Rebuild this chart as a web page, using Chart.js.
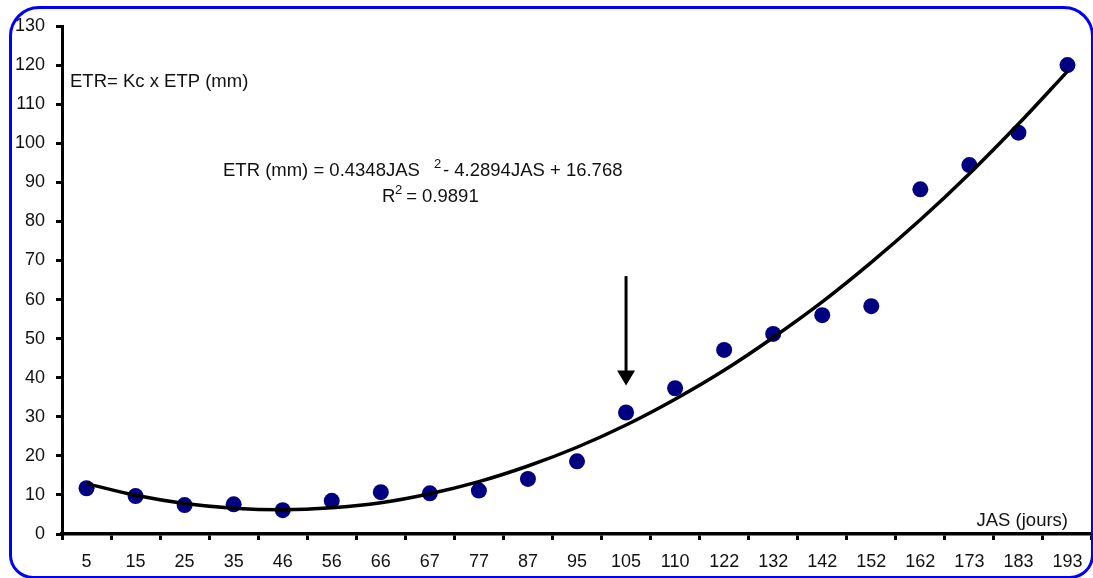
<!DOCTYPE html>
<html>
<head>
<meta charset="utf-8">
<script src="https://cdn.jsdelivr.net/npm/chart.js@4/dist/chart.umd.min.js"></script>
<style>
  html, body { margin: 0; padding: 0; background: #fff; overflow: hidden; }
  #wrap { position: relative; width: 1093px; height: 578px; overflow: hidden; }
  #frame {
    position: absolute; left: 9px; top: 6px; width: 1079px; height: 567px;
    border: 3px solid #0000ff; border-radius: 30px 30px 24px 24px; pointer-events: none;
  }
  canvas { position: absolute; left: 0; top: 0; }
</style>
</head>
<body>
<div id="wrap">
  <canvas id="etr" width="1100" height="578"></canvas>
  <div id="frame"></div>
</div>
<script>
// jours apres semis
const jas = ['5','15','25','35','46','56','66','67','77','87','95','105','110','122','132','142','152','162','173','183','193'];
// ETR mesuree (mm)
const etr = [11.7, 9.7, 7.4, 7.6, 6.1, 8.5, 10.7, 10.4, 11.1, 14.1, 18.6, 31.1, 37.3, 47.1, 51.2, 56.0, 58.3, 88.2, 94.4, 102.7, 120.0];
// courbe de tendance polynomiale (ordre 2)
const tendance = [12.9, 9.9, 7.8, 6.6, 6.2, 6.7, 8.0, 10.3, 13.4, 17.4, 22.2, 27.9, 34.5, 41.9, 50.3, 59.4, 69.5, 80.4, 92.2, 104.9, 118.4];
const yTicks = [0, 130, 10];

const family = 'Arial, "Liberation Sans", sans-serif';
const font = { family: family, size: 18 };

const annotations = {
  id: 'annotations',
  afterDatasetsDraw(chart) {
    const ctx = chart.ctx;
    const x = chart.scales.x, y = chart.scales.y;
    const big = '18.5px ' + family, small = '13px ' + family;
    ctx.save();
    ctx.fillStyle = '#111';
    ctx.font = big;
    ctx.textBaseline = 'middle';
    ctx.textAlign = 'left';
    ctx.fillText('ETR= Kc x ETP (mm)', 70, 82);

    // equation de la tendance
    ctx.fillText('ETR (mm) = 0.4348JAS', 223, 171);
    ctx.font = small;
    ctx.fillText('2', 434, 164);
    ctx.font = big;
    ctx.fillText('- 4.2894JAS + 16.768', 443, 171);
    ctx.fillText('R', 382, 197);
    ctx.font = small;
    ctx.fillText('2', 395, 190);
    ctx.font = big;
    ctx.fillText(' = 0.9891', 401, 197);

    ctx.textAlign = 'right';
    ctx.fillText('JAS (jours)', 1068, 521);

    // fleche sur JAS 105
    const ax = x.getPixelForValue(11);
    const top = y.getPixelForValue(66);
    const tip = y.getPixelForValue(38);
    ctx.strokeStyle = '#000';
    ctx.lineWidth = 3;
    ctx.beginPath();
    ctx.moveTo(ax, top);
    ctx.lineTo(ax, tip - 12);
    ctx.stroke();
    ctx.fillStyle = '#000';
    ctx.beginPath();
    ctx.moveTo(ax - 9, tip - 15);
    ctx.lineTo(ax + 9, tip - 15);
    ctx.lineTo(ax, tip);
    ctx.closePath();
    ctx.fill();
    ctx.restore();
  }
};

new Chart(document.getElementById('etr'), {
  type: 'line',
  data: {
    labels: jas,
    datasets: [{
      label: 'tendance',
      data: tendance,
      borderColor: '#000',
      borderWidth: 3.5,
      pointRadius: 0,
      tension: 0.4,
      cubicInterpolationMode: 'monotone',
      order: 0
    }, {
      label: 'ETR',
      data: etr,
      showLine: false,
      pointRadius: 8,
      pointBackgroundColor: '#000080',
      pointBorderColor: '#000080',
      pointBorderWidth: 0,
      order: 1
    }]
  },
  options: {
    responsive: false,
    animation: false,
    devicePixelRatio: 1,
    layout: { padding: { top: 26, right: 4, left: 0, bottom: 0 } },
    plugins: { legend: { display: false }, tooltip: { enabled: false } },
    scales: {
      x: {
        offset: true,
        grid: { offset: true, drawOnChartArea: false, color: '#000', lineWidth: 3, tickLength: 6 },
        border: { color: '#000', width: 3.5 },
        ticks: { color: '#111', font: font, padding: 11, maxRotation: 0, autoSkip: false },
        afterFit(s) { s.height = 44; }
      },
      y: {
        min: yTicks[0],
        max: yTicks[1],
        grid: { drawOnChartArea: false, color: '#000', lineWidth: 3, tickLength: 6 },
        border: { color: '#000', width: 3 },
        ticks: { stepSize: yTicks[2], color: '#111', font: font, padding: 11 },
        afterFit(s) { s.width = 62; }
      }
    }
  },
  plugins: [annotations]
});
</script>
</body>
</html>
